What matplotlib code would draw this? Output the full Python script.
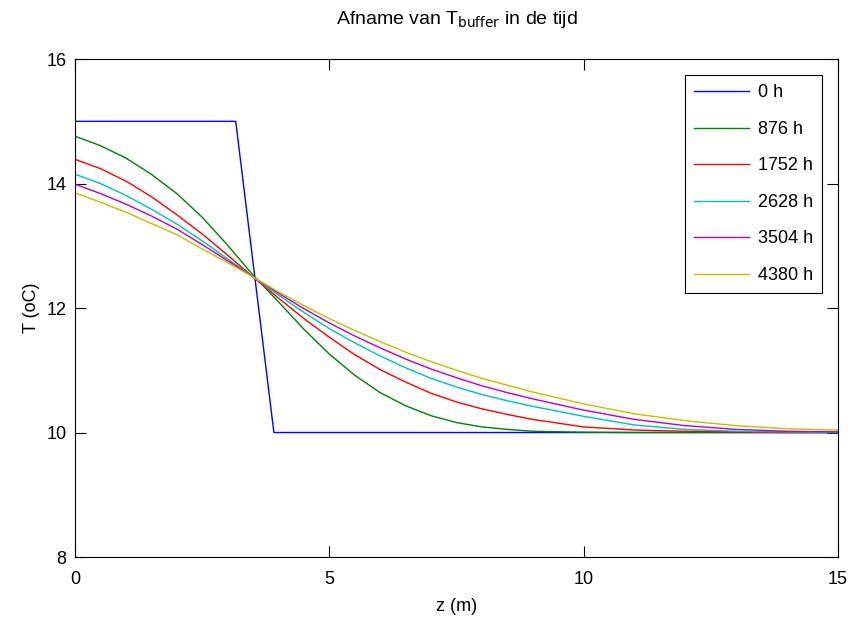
import matplotlib
matplotlib.use("Agg")
import matplotlib.pyplot as plt

# depth grid (m) used for the profiles
z = [0, 0.5, 1, 1.5, 2, 2.5, 3, 3.5, 4, 4.5, 5, 5.5, 6, 6.5, 7, 7.5, 8, 8.5, 9,
     10, 11, 12, 13, 14, 15]

# initial profile (0 h)
z0 = [0, 3.16, 3.91, 15]
T0 = [15, 15, 10, 10]

T876 = [14.76, 14.61, 14.41, 14.15, 13.84, 13.46, 13.01, 12.53, 12.10, 11.66, 11.26,
        10.92, 10.64, 10.43, 10.27, 10.16, 10.09, 10.05, 10.02, 10.005, 10.0, 10.0,
        10.0, 10.0, 10.0]
T1752 = [14.39, 14.24, 14.04, 13.79, 13.50, 13.19, 12.85, 12.50, 12.16, 11.83, 11.53,
         11.25, 11.01, 10.81, 10.63, 10.49, 10.38, 10.29, 10.21, 10.09, 10.04, 10.02,
         10.01, 10.0, 10.0]
T2628 = [14.15, 14.00, 13.81, 13.59, 13.35, 13.08, 12.79, 12.50, 12.21, 11.93, 11.67,
         11.44, 11.23, 11.04, 10.87, 10.73, 10.61, 10.51, 10.42, 10.26, 10.12, 10.05,
         10.02, 10.01, 10.0]
T3504 = [13.99, 13.84, 13.67, 13.48, 13.27, 13.02, 12.76, 12.50, 12.24, 11.99, 11.76,
         11.55, 11.36, 11.18, 11.02, 10.88, 10.75, 10.64, 10.54, 10.36, 10.21, 10.11,
         10.05, 10.02, 10.01]
T4380 = [13.85, 13.70, 13.54, 13.36, 13.18, 12.95, 12.73, 12.50, 12.26, 12.04, 11.83,
         11.64, 11.46, 11.29, 11.14, 11.00, 10.87, 10.76, 10.65, 10.46, 10.30, 10.19,
         10.11, 10.06, 10.04]

labels = ['0 h', '876 h', '1752 h', '2628 h', '3504 h', '4380 h']
colors = [(0, 0, 1), (0, 0.5, 0), (1, 0, 0), (0, 0.75, 0.75), (0.75, 0, 0.75),
          (0.75, 0.75, 0)]

plt.rcParams['font.family'] = ['Liberation Sans', 'DejaVu Sans']

fig = plt.figure(figsize=(8.52, 6.22), dpi=100)
ax = fig.add_axes([0.088, 0.1045, 0.8956, 0.8005])

ax.plot(z0, T0, color=colors[0], lw=1.0, label=labels[0])
for T, c, lab in zip([T876, T1752, T2628, T3504, T4380], colors[1:], labels[1:]):
    ax.plot(z, T, color=c, lw=1.0, label=lab)

ax.set_xlim(0, 15)
ax.set_ylim(8, 16)
ax.set_xticks([0, 5, 10, 15])
ax.set_yticks([8, 10, 12, 14, 16])
ax.tick_params(direction='in', top=True, right=True, length=8, width=0.8,
               labelsize=13)
ax.tick_params(axis='x', pad=10)
ax.tick_params(axis='y', pad=6)
for s in ax.spines.values():
    s.set_linewidth(0.8)

ax.set_xlabel('z (m)', fontsize=13, labelpad=7)
ax.set_ylabel('T (oC)', fontsize=13, labelpad=5)
ax.set_title(r'Afname van T$_{\mathrm{buffer}}$ in de tijd', fontsize=14, pad=25)

leg = ax.legend(loc='upper right', fontsize=13, fancybox=False, edgecolor='black',
                framealpha=1, handlelength=3.0, labelspacing=1.08,
                borderaxespad=0.9, borderpad=0.5, handletextpad=0.5)
leg.get_frame().set_linewidth(0.8)

fig.savefig('out.png', dpi=100)
